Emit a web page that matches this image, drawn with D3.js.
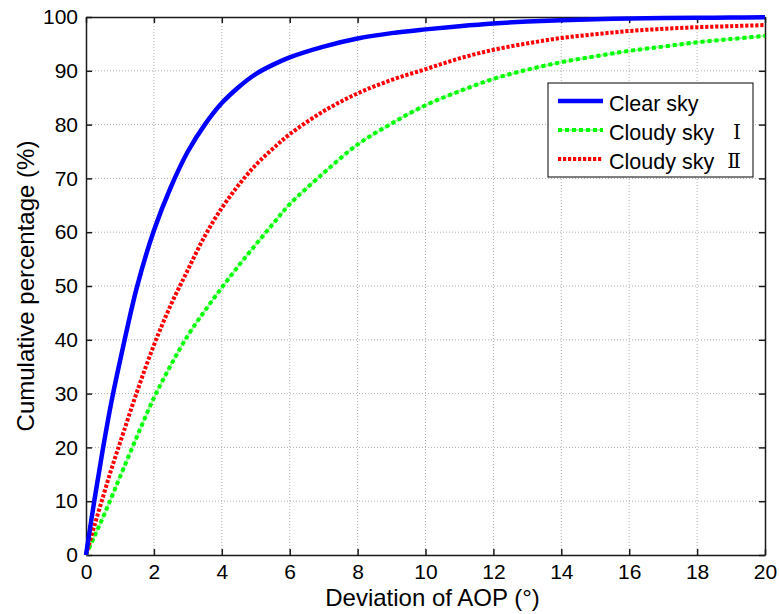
<!DOCTYPE html>
<html><head><meta charset="utf-8">
<script src="https://cdn.jsdelivr.net/npm/d3@7"></script>
<style>body{margin:0;background:#fff}</style>
</head><body>
<svg id="c" width="779" height="614"></svg>
<script>
const xs = [0,0.25,0.5,0.75,1,1.5,2,2.5,3,3.5,4,4.5,5,5.5,6,7,8,9,10,11,12,13,14,15,16,17,18,19,20];
const clearSky = [0,10.3,19.8,28.5,36,49.8,60.3,68.4,75,80,84,87,89.4,91.1,92.5,94.5,96,97,97.7,98.3,98.8,99.15,99.4,99.6,99.7,99.8,99.85,99.9,99.95];
const cloudy1 = [0,3.5,7,10.7,14.5,22,29.2,35.3,40.8,45.4,49.7,53.8,57.7,61.5,65.2,71,76.3,80.2,83.6,86.2,88.5,90.2,91.6,92.7,93.7,94.5,95.3,95.9,96.5];
const cloudy2 = [0,5.5,10.8,16,20.8,30.3,39,46.5,53,59.3,64.5,68.8,72.5,75.5,78.2,82.5,85.8,88.3,90.3,92.3,93.9,95.1,96.1,96.8,97.4,97.8,98.1,98.3,98.5];
const xTicks = [0,2,4,6,8,10,12,14,16,18,20];
const yTicks = [0,10,20,30,40,50,60,70,80,90,100];
const seriesNames = ["Clear sky","Cloudy sky","Cloudy sky"];
const numerals = ["","Ⅰ","Ⅱ"];

const svg = d3.select("#c");
const L=86, R=765, T=17, B=555;
const x = d3.scaleLinear().domain([0,20]).range([L,R]);
const y = d3.scaleLinear().domain([0,100]).range([B,T]);
const font = "'Liberation Sans', Arial, sans-serif";

// grid
const g = svg.append("g");
g.selectAll(".gx").data(xTicks.slice(1,-1)).enter().append("line")
  .attr("x1",d=>x(d)).attr("x2",d=>x(d)).attr("y1",T).attr("y2",B)
  .attr("stroke","#b0b0b0").attr("stroke-width",1).attr("stroke-dasharray","1,2");
g.selectAll(".gy").data(yTicks.slice(1,-1)).enter().append("line")
  .attr("y1",d=>y(d)).attr("y2",d=>y(d)).attr("x1",L).attr("x2",R)
  .attr("stroke","#b0b0b0").attr("stroke-width",1).attr("stroke-dasharray","1,2");

// axes (inward ticks)
const axB = d3.axisBottom(x).tickValues(xTicks).tickSizeInner(-6).tickSizeOuter(0).tickPadding(9);
const axL = d3.axisLeft(y).tickValues(yTicks).tickSizeInner(-6).tickSizeOuter(0).tickPadding(8);
const axT = d3.axisTop(x).tickValues(xTicks).tickSizeInner(-6).tickSizeOuter(0).tickFormat("");
const axR = d3.axisRight(y).tickValues(yTicks).tickSizeInner(-6).tickSizeOuter(0).tickFormat("");
function styleAx(sel){
  sel.selectAll("path").attr("stroke","#1a1a1a").attr("stroke-width",1.5);
  sel.selectAll("line").attr("stroke","#1a1a1a").attr("stroke-width",1.5);
  sel.selectAll("text").attr("font-family",font).attr("font-size",21).attr("fill","#000");
}
styleAx(svg.append("g").attr("transform",`translate(0,${B})`).call(axB));
styleAx(svg.append("g").attr("transform",`translate(${L},0)`).call(axL));
styleAx(svg.append("g").attr("transform",`translate(0,${T})`).call(axT));
styleAx(svg.append("g").attr("transform",`translate(${R},0)`).call(axR));

// lines
const line = vals => d3.line().x((d,i)=>x(xs[i])).y(d=>y(d)).curve(d3.curveCatmullRom.alpha(0.5))(vals);
svg.append("path").attr("d",line(cloudy1)).attr("fill","none").attr("stroke","#9cff9c").attr("stroke-width",2);
svg.append("path").attr("d",line(cloudy1)).attr("fill","none").attr("stroke","#00ff00").attr("stroke-width",4).attr("stroke-dasharray","4,3");
svg.append("path").attr("d",line(cloudy2)).attr("fill","none").attr("stroke","#ff0000").attr("stroke-width",4).attr("stroke-dasharray","3.2,1.8");
svg.append("path").attr("d",line(clearSky)).attr("fill","none").attr("stroke","#0000ff").attr("stroke-width",4.5);

// legend
const lg = svg.append("g");
lg.append("rect").attr("x",548).attr("y",83).attr("width",205).attr("height",94)
  .attr("fill","#fff").attr("stroke","#000").attr("stroke-width",1);
const rows = [101,130,159];
const numX = [0,737,734];
const styles = [
  {c:"#0000ff",w:4.5,d:null},
  {c:"#00ff00",w:4,d:"4,3",u:true},
  {c:"#ff0000",w:4,d:"3.2,1.8"}
];
rows.forEach((ry,i)=>{
  if(styles[i].u) lg.append("line").attr("x1",558).attr("x2",603).attr("y1",ry).attr("y2",ry).attr("stroke","#9cff9c").attr("stroke-width",2);
  const ln = lg.append("line").attr("x1",558).attr("x2",603).attr("y1",ry).attr("y2",ry)
    .attr("stroke",styles[i].c).attr("stroke-width",styles[i].w);
  if(styles[i].d) ln.attr("stroke-dasharray",styles[i].d);
  lg.append("text").attr("x",609).attr("y",ry+10).attr("font-family",font).attr("font-size",21.5).text(seriesNames[i]);
  if(numerals[i]) lg.append("text").attr("x",numX[i]).attr("y",ry+9).attr("text-anchor","middle")
    .attr("font-family","'DejaVu Serif', serif").attr("font-size",20).text(numerals[i]);
});

// axis labels
svg.append("text").attr("x",(L+R)/2+7).attr("y",606).attr("text-anchor","middle")
  .attr("font-family",font).attr("font-size",24).text("Deviation of AOP (°)");
svg.append("text").attr("transform",`translate(34,${(T+B)/2}) rotate(-90)`).attr("text-anchor","middle")
  .attr("font-family",font).attr("font-size",24).text("Cumulative percentage (%)");
</script>
</body></html>
